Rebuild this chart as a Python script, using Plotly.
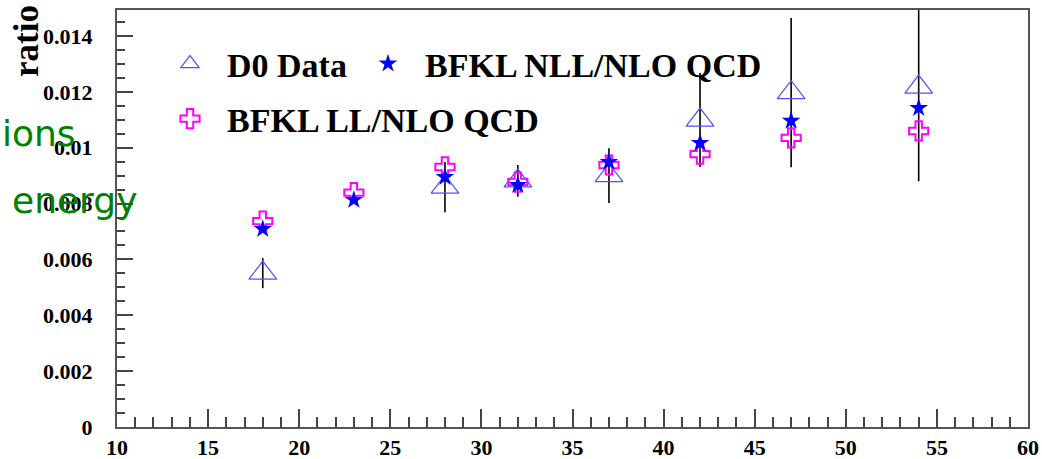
import plotly.graph_objects as go

# ---- data ----
x_vals = [18, 23, 28, 32, 37, 42, 47, 54]
d0_data = [0.00551, None, 0.00859, 0.00881, 0.00900, 0.01099, 0.01197, 0.01217]
d0_err = [0.00054, None, 0.00090, 0.00057, 0.00098, 0.00168, 0.00267, 0.00337]
bfkl_nll = [0.00709, 0.00813, 0.00895, 0.00866, 0.00949, 0.01017, 0.01096, 0.01142]
bfkl_ll = [0.00737, 0.00839, 0.00931, 0.00877, 0.00938, 0.00977, 0.01035, 0.01060]

x_ticks = [10, 15, 20, 25, 30, 35, 40, 45, 50, 55, 60]
y_ticks = [0, 0.002, 0.004, 0.006, 0.008, 0.01, 0.012, 0.014]
y_tick_text = ["0", "0.002", "0.004", "0.006", "0.008", "0.01", "0.012", "0.014"]

names = ["D0 Data", "BFKL NLL/NLO QCD", "BFKL LL/NLO QCD"]

W, H = 1042, 459
ML, MR, MT, MB = 117, 14, 10, 32
PW, PH = W - ML - MR, H - MT - MB


def px_x(p):
    return (p - ML) / PW


def px_y(p):
    return 1 - (p - MT) / PH


serif = "Liberation Serif"

fig = go.Figure()

fig.add_trace(go.Scatter(
    x=x_vals, y=d0_data, mode="markers", name=names[0],
    marker=dict(symbol="triangle-up-open", size=24, color="rgb(80,80,255)",
                line=dict(width=1.2, color="rgb(80,80,255)")),
    error_y=dict(type="data", array=d0_err, visible=True, color="black",
                 thickness=1.6, width=0),
    legend="legend",
))

fig.add_trace(go.Scatter(
    x=x_vals, y=bfkl_ll, mode="markers", name=names[2],
    marker=dict(symbol="cross-open", size=16, color="#ff00ff",
                line=dict(width=2, color="#ff00ff")),
    legend="legend2",
))

fig.add_trace(go.Scatter(
    x=x_vals, y=bfkl_nll, mode="markers", name=names[1],
    marker=dict(symbol="star", size=14, color="#0000ff",
                line=dict(width=0)),
    legend="legend3",
))

axis_font = dict(family=serif, size=22, color="black", weight="bold")

fig.update_xaxes(
    range=[10, 60], tickvals=x_ticks, ticks="inside", ticklen=18, tickwidth=2,
    tickcolor="#444", minor=dict(dtick=1, ticks="inside", ticklen=10,
                                 tickwidth=1.5, tickcolor="#444"),
    showgrid=False, zeroline=False, showline=True, linecolor="#555",
    linewidth=2, mirror=True, tickfont=axis_font, ticklabelstandoff=0,
    automargin=False,
)
fig.update_yaxes(
    range=[0, 0.01493], tickvals=y_ticks, ticktext=y_tick_text,
    ticks="inside", ticklen=16, tickwidth=2, tickcolor="#444",
    minor=dict(dtick=0.0005, ticks="inside", ticklen=8, tickwidth=1.5,
               tickcolor="#444"),
    showgrid=False, zeroline=False, showline=True, linecolor="#555",
    linewidth=2, mirror=True, tickfont=axis_font, ticklabelstandoff=18,
    automargin=False,
)

leg_font = dict(family=serif, size=34, color="black", weight="bold")


def leg(x_px, y_px):
    return dict(orientation="h", x=px_x(x_px), y=px_y(y_px), xanchor="left",
                yanchor="middle", bgcolor="rgba(0,0,0,0)", font=leg_font,
                itemwidth=64, borderwidth=0)


fig.update_layout(
    width=W, height=H,
    margin=dict(l=ML, r=MR, t=MT, b=MB, autoexpand=False),
    plot_bgcolor="white", paper_bgcolor="white",
    showlegend=True,
    legend=leg(153, 64),
    legend3=leg(351, 64),
    legend2=leg(153, 119),
    annotations=[
        dict(text="ratio", xref="paper", yref="paper", x=px_x(27),
             y=px_y(41), xanchor="center", yanchor="middle", textangle=-90,
             showarrow=False, font=dict(family=serif, size=35, color="black",
                                        weight="bold")),
        dict(text="ions", xref="paper", yref="paper", x=px_x(0),
             y=px_y(134), xanchor="left", yanchor="middle", showarrow=False,
             font=dict(family="DejaVu Sans", size=36, color="green")),
        dict(text="energy", xref="paper", yref="paper", x=px_x(10),
             y=px_y(200), xanchor="left", yanchor="middle", showarrow=False,
             font=dict(family="DejaVu Sans", size=36, color="green")),
    ],
)

fig.write_html("out.html")
